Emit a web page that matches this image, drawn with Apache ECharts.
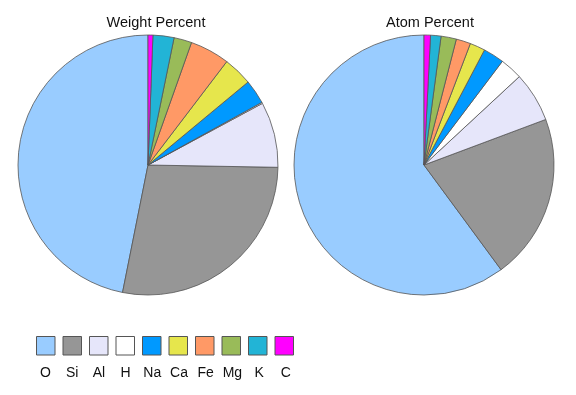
<!DOCTYPE html>
<html>
<head>
<meta charset="utf-8">
<script src="https://cdn.jsdelivr.net/npm/echarts@6/dist/echarts.min.js"></script>
<style>
html,body{margin:0;padding:0;background:#fff;}
#chart{width:576px;height:395px;}
</style>
</head>
<body>
<div id="chart"></div>
<script>
var elements = ['O', 'Si', 'Al', 'H', 'Na', 'Ca', 'Fe', 'Mg', 'K', 'C'];
var weightPercent = [46.6, 27.7, 8.1, 0.14, 3.0, 3.6, 4.9, 2.2, 2.6, 0.6];
var atomPercent = [60.1, 20.6, 6.2, 2.8, 2.6, 1.9, 1.8, 1.9, 1.3, 0.8];
var colors = ['#99CCFF', '#969696', '#E6E6FA', '#FFFFFF', '#0099FF', '#E6E64C', '#FF9966', '#99BB59', '#22B4D6', '#FF00FF'];
var titles = ['Weight Percent', 'Atom Percent'];

var chart = echarts.init(document.getElementById('chart'), null, {renderer: 'canvas'});

function toData(vals) {
  return elements.map(function (n, i) { return {name: n, value: vals[i]}; });
}

var legendX0 = 36, legendStep = 26.7, legendY = 373;
var fontFam = '"Liberation Sans", Arial, sans-serif';

chart.setOption({
  animation: false,
  color: colors,
  title: [
    {text: titles[0], left: 151, top: 10, textAlign: 'center',
     textStyle: {fontFamily: fontFam, fontSize: 14.5, fontWeight: 'normal', color: '#111'}},
    {text: titles[1], left: 425, top: 10, textAlign: 'center',
     textStyle: {fontFamily: fontFam, fontSize: 14.5, fontWeight: 'normal', color: '#111'}}
  ],
  legend: {
    data: elements,
    left: legendX0,
    top: 336,
    orient: 'horizontal',
    icon: 'rect',
    itemWidth: 18.5,
    itemHeight: 18.5,
    itemGap: 7,
    formatter: function () { return ''; },
    itemStyle: {borderColor: '#555', borderWidth: 1},
    selectedMode: false,
    padding: 0
  },
  graphic: elements.map(function (n, i) {
    return {
      type: 'text',
      x: legendX0 + 9.5 + i * legendStep,
      y: legendY,
      silent: true,
      style: {
        text: n,
        font: '14px ' + fontFam,
        fill: '#111',
        align: 'center',
        verticalAlign: 'middle'
      }
    };
  }),
  series: [
    {
      type: 'pie',
      center: [148, 165],
      radius: 130,
      startAngle: 90,
      clockwise: false,
      label: {show: false},
      labelLine: {show: false},
      silent: true,
      itemStyle: {borderColor: '#555', borderWidth: 0.8},
      emphasis: {disabled: true},
      data: toData(weightPercent)
    },
    {
      type: 'pie',
      center: [424, 165],
      radius: 130,
      startAngle: 90,
      clockwise: false,
      label: {show: false},
      labelLine: {show: false},
      silent: true,
      itemStyle: {borderColor: '#555', borderWidth: 0.8},
      emphasis: {disabled: true},
      data: toData(atomPercent)
    }
  ]
});
</script>
</body>
</html>
